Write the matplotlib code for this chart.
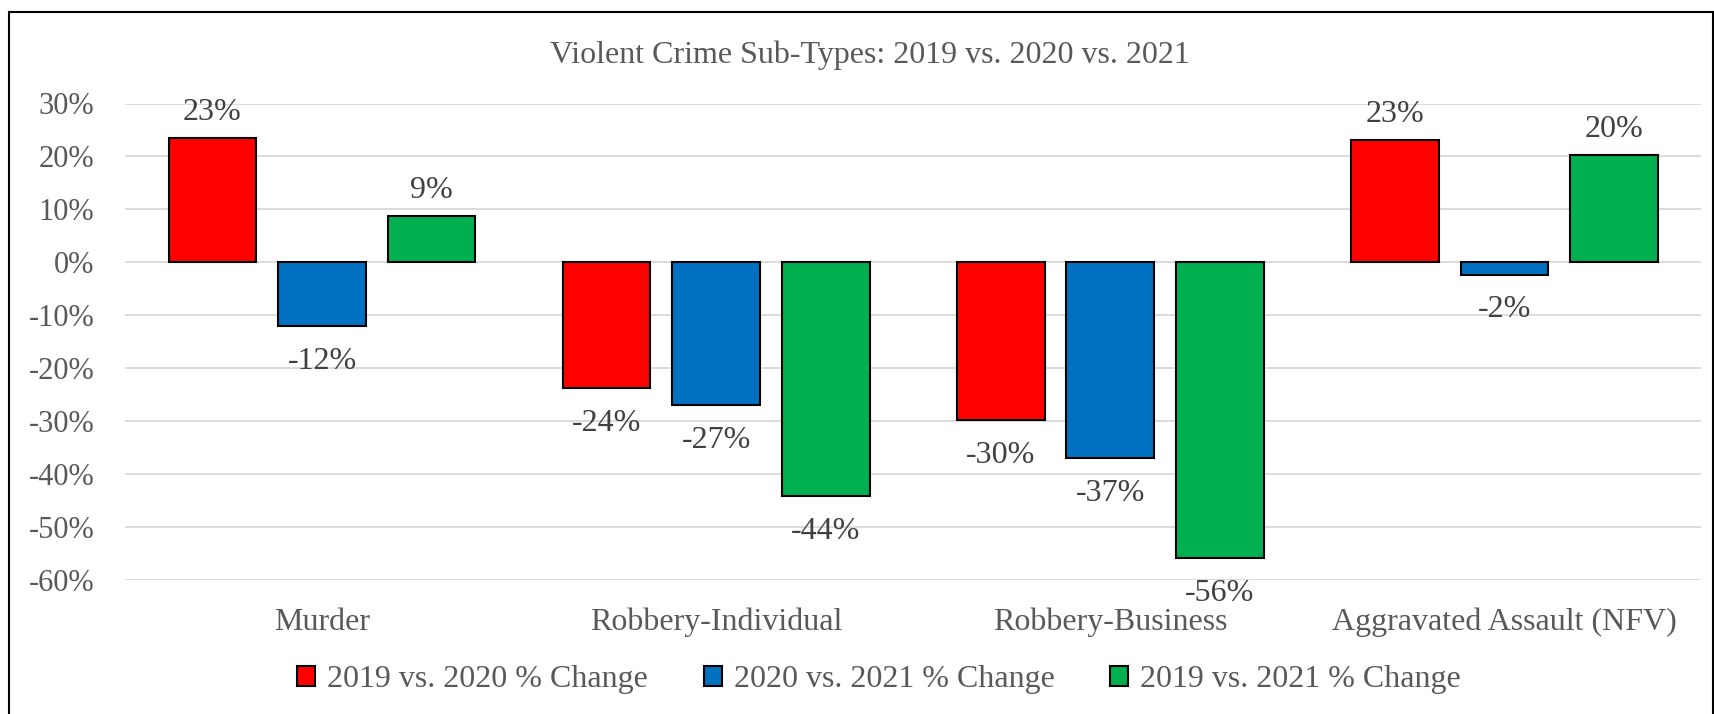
import matplotlib
matplotlib.use("Agg")
import matplotlib.pyplot as plt
import numpy as np
from matplotlib.patches import Rectangle

categories = ["Murder", "Robbery-Individual", "Robbery-Business", "Aggravated Assault (NFV)"]
series_names = ["2019 vs. 2020 % Change", "2020 vs. 2021 % Change", "2019 vs. 2021 % Change"]
chg_19_20 = [0.234, -0.238, -0.298, 0.231]
chg_20_21 = [-0.121, -0.269, -0.369, -0.023]
chg_19_21 = [0.087, -0.441, -0.559, 0.202]
y_ticks = [0.3, 0.2, 0.1, 0.0, -0.1, -0.2, -0.3, -0.4, -0.5, -0.6]
title = "Violent Crime Sub-Types: 2019 vs. 2020 vs. 2021"

colors = ["#FF0000", "#0070C0", "#00B050"]
text_color = "#595959"
plt.rcParams['font.family'] = ['Liberation Serif', 'DejaVu Serif']

fig = plt.figure(figsize=(17.15, 7.14), dpi=100)
ax = fig.add_axes([125/1715, 1 - 580/714, (1701.5 - 125)/1715, (580 - 103.5)/714])

x = np.arange(len(categories))
width = 0.2226
step = 0.278
all_series = [chg_19_20, chg_20_21, chg_19_21]
for i, (vals, name, col) in enumerate(zip(all_series, series_names, colors)):
    pos = x + (i - 1) * step
    bars = ax.bar(pos, vals, width=width, color=col, edgecolor="black", linewidth=1.5,
                  label=name, zorder=3)
    for b, v in zip(bars, vals):
        cx = b.get_x() + b.get_width() / 2
        lab = f"{round(v*100):.0f}%"
        if v >= 0:
            ax.annotate(lab, (cx, v), xytext=(0, 8), textcoords="offset points",
                        ha="center", va="bottom", fontsize=23, color="#404040")
        else:
            ax.annotate(lab, (cx, v), xytext=(0, -15), textcoords="offset points",
                        ha="center", va="top", fontsize=23, color="#404040")

ax.set_xlim(-0.5, len(categories) - 0.5)
ax.set_ylim(-0.6, 0.3)
ax.set_yticks(y_ticks)
ax.set_yticklabels([f"{round(t*100):.0f}%" for t in y_ticks])
ax.set_xticks(x)
ax.set_xticklabels(categories)
ax.tick_params(axis="both", length=0, labelcolor=text_color)
ax.tick_params(axis="x", pad=20, labelsize=23)
ax.tick_params(axis="y", pad=22, labelsize=22)
ax.grid(axis="y", color="#d9d9d9", linewidth=1.3, zorder=0)
for s in ax.spines.values():
    s.set_visible(False)

fig.text(870/1715, 1 - 55/714, title, ha="center", va="center", fontsize=23, color=text_color)

handles, labels = ax.get_legend_handles_labels()
fig.legend(handles, labels, loc="center", bbox_to_anchor=(879/1715, 1 - 680/714), ncol=3,
           frameon=False, fontsize=23, labelcolor=text_color, handlelength=0.56, handleheight=0.56,
           handletextpad=0.38, columnspacing=1.75)

fig.add_artist(Rectangle((9/1715, -0.05), (1713 - 9)/1715, 1.05 - 12/714, transform=fig.transFigure,
                         fill=False, edgecolor="black", linewidth=1.5))

fig.savefig("out.png", dpi=100)
